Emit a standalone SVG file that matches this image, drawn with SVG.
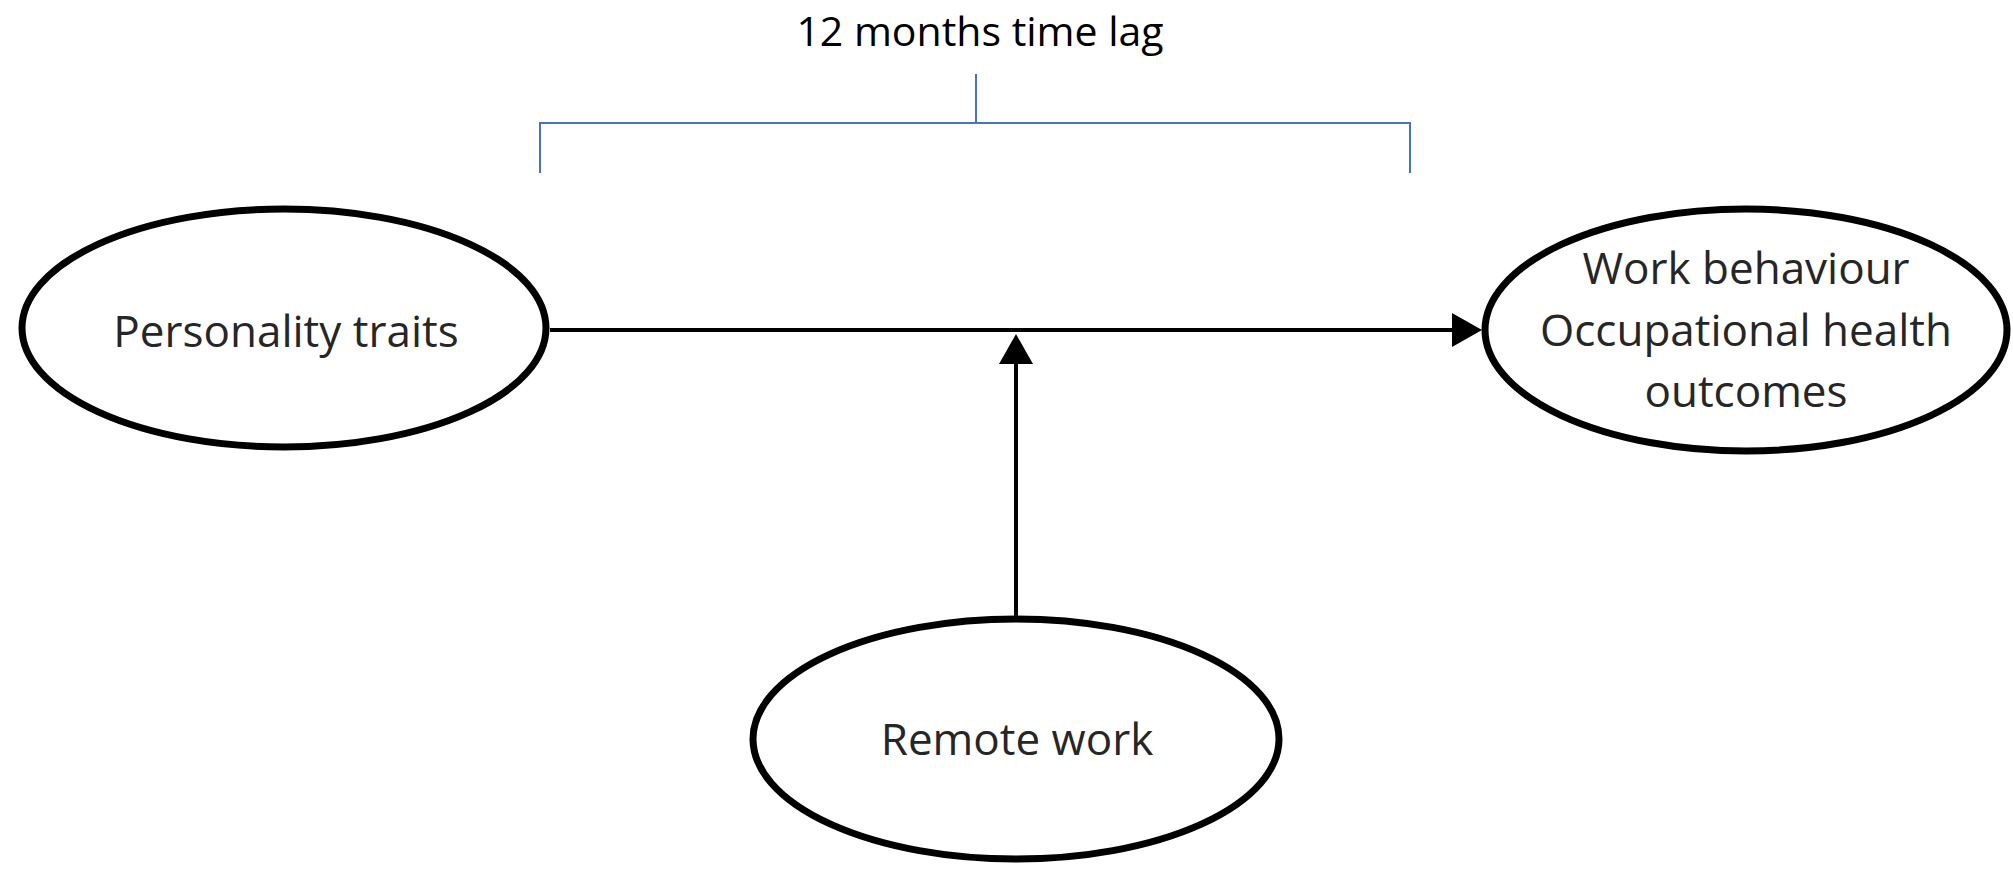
<svg xmlns="http://www.w3.org/2000/svg" width="2013" height="871" viewBox="0 0 2013 871">
  <style>
    .node { fill: #ffffff; stroke: #000000; stroke-width: 7; }
    .label { font-family: "Open Sans", "Liberation Sans", sans-serif; font-size: 44px; fill: #262626; text-anchor: middle; }
    .title { font-family: "Open Sans", "Liberation Sans", sans-serif; font-size: 41px; fill: #000000; text-anchor: middle; }
    .conn { fill: none; stroke: #000000; stroke-width: 4; }
    .bracket { fill: none; stroke: #4472C4; stroke-width: 2; }
  </style>
  <defs>
    <marker id="arrow" markerUnits="userSpaceOnUse" viewBox="0 0 30 34" refX="0" refY="17" markerWidth="30" markerHeight="34" orient="auto">
      <path d="M0,0 L30,17 L0,34 Z" fill="#000000"/>
    </marker>
  </defs>
  <rect width="2013" height="871" fill="#ffffff"/>

  <g id="time-lag">
    <text class="title" x="980" y="46">12 months time lag</text>
    <polyline class="bracket" points="540,173 540,123 1410,123 1410,173"/>
    <line class="bracket" x1="976" y1="74" x2="976" y2="123"/>
  </g>

  <g id="connectors">
    <line class="conn" x1="550" y1="330" x2="1452" y2="330" marker-end="url(#arrow)"/>
    <line class="conn" x1="1016" y1="616" x2="1016" y2="364" marker-end="url(#arrow)"/>
  </g>

  <g id="personality-traits">
    <ellipse class="node" cx="284" cy="328" rx="262" ry="119"/>
    <text class="label" x="286" y="347">Personality traits</text>
  </g>

  <g id="outcomes">
    <ellipse class="node" cx="1746" cy="330" rx="261" ry="121"/>
    <text class="label" x="1746" y="284">Work behaviour</text>
    <text class="label" x="1746" y="346">Occupational health</text>
    <text class="label" x="1746" y="407">outcomes</text>
  </g>

  <g id="remote-work">
    <ellipse class="node" cx="1016" cy="739" rx="263" ry="120"/>
    <text class="label" x="1017" y="755">Remote work</text>
  </g>
</svg>
